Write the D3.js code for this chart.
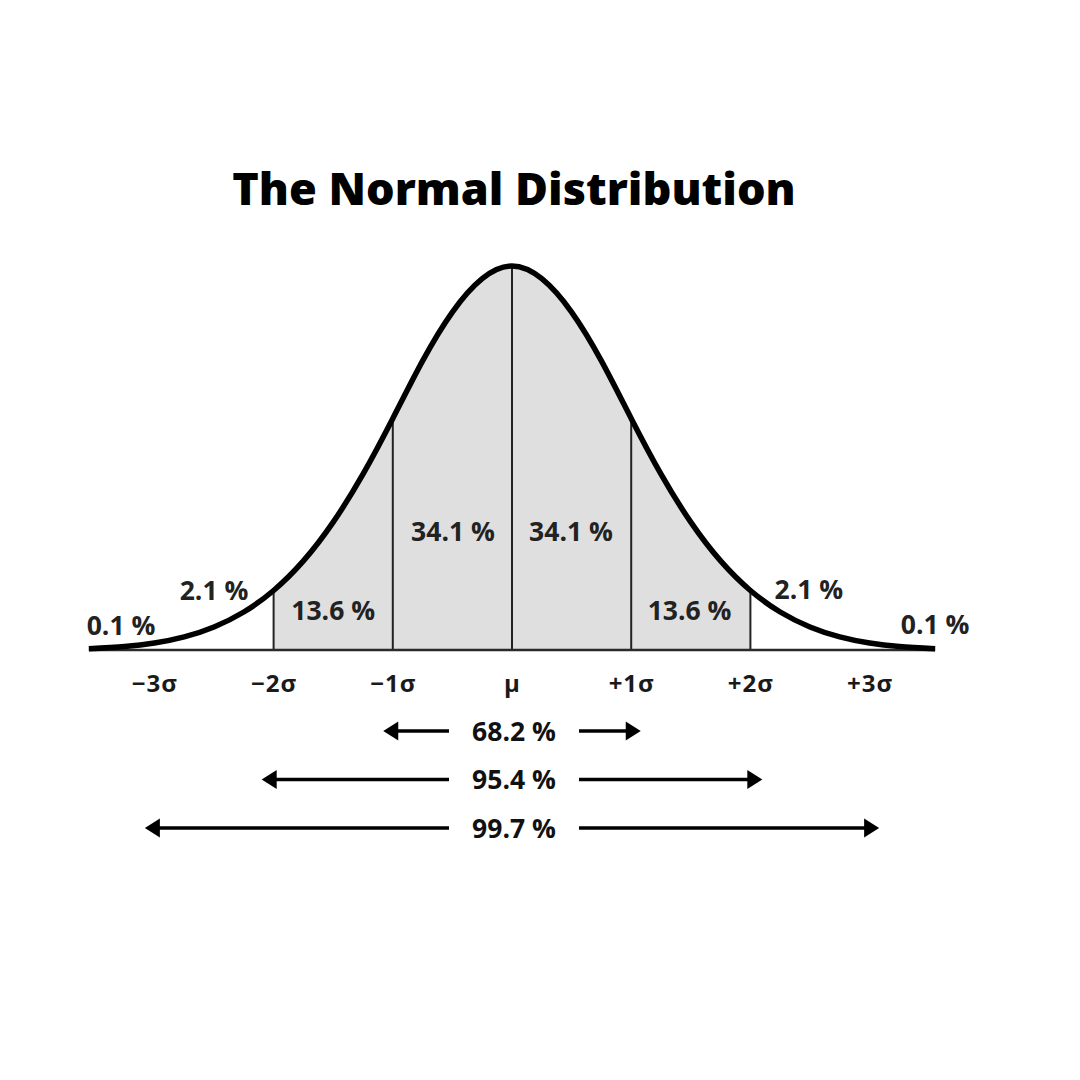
<!DOCTYPE html>
<html>
<head>
<meta charset="utf-8">
<script src="https://cdn.jsdelivr.net/npm/d3@7"></script>
<style>
  html, body { margin: 0; padding: 0; background: #fff; }
  svg { display: block; }
  text { font-family: "Open Sans", "Noto Sans", sans-serif; }
</style>
</head>
<body>
<svg id="chart" width="1080" height="1080"></svg>
<script>
// ---------- data ----------
const title = "The Normal Distribution";

// curve samples: position in σ units, relative height (peak = 1)
const curveZ = [-3.55, -3.25, -3.0, -2.75, -2.5, -2.25, -2.0, -1.75, -1.5, -1.25, -1.0, -0.75, -0.5, -0.25, 0,
                 0.25, 0.5, 0.75, 1.0, 1.25, 1.5, 1.75, 2.0, 2.25, 2.5, 2.75, 3.0, 3.25, 3.55];
const curveH = [0.003, 0.009, 0.018, 0.034, 0.060, 0.099, 0.155, 0.232, 0.333, 0.458, 0.603, 0.753, 0.880, 0.967, 1.0,
                0.967, 0.880, 0.753, 0.603, 0.458, 0.333, 0.232, 0.155, 0.099, 0.060, 0.034, 0.018, 0.009, 0.003];

// sigma ticks and their labels
const sigmaTicks  = [-3, -2, -1, 0, 1, 2, 3];
const sigmaLabels = ["\u22123\u03C3", "\u22122\u03C3", "\u22121\u03C3", "\u03BC", "+1\u03C3", "+2\u03C3", "+3\u03C3"];

// vertical divider lines (σ)
const dividerZ = [-2, -1, 0, 1, 2];

// band percentages
const bandLabels = ["0.1 %", "2.1 %", "13.6 %", "34.1 %", "34.1 %", "13.6 %", "2.1 %", "0.1 %"];

// cumulative ranges
const rangeLabels = ["68.2 %", "95.4 %", "99.7 %"];
const rangeExtent = [1.08, 2.1, 3.08];   // arrow reach in σ

// ---------- layout ----------
const bandLabelPos = [[-3.28, 0.039], [-2.50, 0.130], [-1.50, 0.078], [-0.495, 0.284],
                      [0.495, 0.284], [1.49, 0.078], [2.49, 0.132], [3.55, 0.042]];

const svg = d3.select("#chart");

const x = d3.scaleLinear().domain([-1, 1]).range([512 - 119.2, 512 + 119.2]);
const y = d3.scaleLinear().domain([0, 1]).range([650, 266]);
const rowY = d3.scalePoint().domain(rangeLabels).range([731, 828]);

const pts = curveZ.map((z, i) => ({ z, h: curveH[i] }));
const heightAt = z => curveH[curveZ.indexOf(z)];
const curveType = d3.curveNatural;

// title
svg.append("text")
  .attr("x", 514).attr("y", 205)
  .attr("text-anchor", "middle")
  .attr("font-size", 45).attr("font-weight", 800)
  .attr("fill", "#000")
  .text(title);

// shaded central area (−2σ..+2σ)
const defs = svg.append("defs");
defs.append("clipPath").attr("id", "mid")
  .append("rect")
  .attr("x", x(-2)).attr("y", 0)
  .attr("width", x(2) - x(-2)).attr("height", y(0));

const area = d3.area()
  .x(d => x(d.z)).y0(y(0)).y1(d => y(d.h))
  .curve(curveType);

svg.append("path")
  .datum(pts)
  .attr("d", area)
  .attr("clip-path", "url(#mid)")
  .attr("fill", "#dfdfdf");

// divider lines
svg.append("g").selectAll("line")
  .data(dividerZ)
  .join("line")
  .attr("x1", d => x(d)).attr("x2", d => x(d))
  .attr("y1", y(0)).attr("y2", d => y(heightAt(d)))
  .attr("stroke", "#222").attr("stroke-width", 2);

// baseline
svg.append("line")
  .attr("x1", x(curveZ[0])).attr("x2", x(curveZ[curveZ.length - 1]))
  .attr("y1", y(0)).attr("y2", y(0))
  .attr("stroke", "#2a2a2a").attr("stroke-width", 2.5);

// curve
const line = d3.line().x(d => x(d.z)).y(d => y(d.h)).curve(curveType);
svg.append("path")
  .datum(pts)
  .attr("d", line)
  .attr("fill", "none")
  .attr("stroke", "#000")
  .attr("stroke-width", 5.5)
  .attr("stroke-linejoin", "round");

// sigma axis
const axis = d3.axisBottom(x)
  .tickValues(sigmaTicks)
  .tickFormat((d, i) => sigmaLabels[i])
  .tickSize(0);
const gAxis = svg.append("g").attr("transform", `translate(0,${y(0)})`).call(axis);
gAxis.select(".domain").remove();
gAxis.selectAll("text")
  .attr("y", 42).attr("dy", 0)
  .attr("font-size", 24).attr("font-weight", 700)
  .attr("letter-spacing", 1)
  .attr("font-family", "'Open Sans', 'Noto Sans', sans-serif")
  .attr("fill", "#1a1a1a");

// band labels
svg.append("g").selectAll("text")
  .data(bandLabels)
  .join("text")
  .attr("x", (d, i) => x(bandLabelPos[i][0]))
  .attr("y", (d, i) => y(bandLabelPos[i][1]))
  .attr("text-anchor", "middle")
  .attr("font-size", 26.5).attr("font-weight", 700)
  .attr("fill", "#222")
  .text(d => d);

// range arrows
const gapHalf = 65;
const rows = svg.append("g").selectAll("g")
  .data(rangeLabels)
  .join("g")
  .attr("transform", d => `translate(0,${rowY(d)})`);

rows.append("text")
  .attr("x", x(0) + 2).attr("y", 9.5)
  .attr("text-anchor", "middle")
  .attr("font-size", 26.5).attr("font-weight", 700)
  .attr("fill", "#111")
  .text(d => d);

const headL = 15, headH = 9.5;
rows.each(function (d, i) {
  const g = d3.select(this);
  const xl = x(-rangeExtent[i]), xr = x(rangeExtent[i]);
  const cx = x(0) + 2;
  g.append("line").attr("x1", xl + headL - 1).attr("x2", cx - gapHalf)
    .attr("y1", 0).attr("y2", 0).attr("stroke", "#000").attr("stroke-width", 3.5);
  g.append("line").attr("x1", cx + gapHalf).attr("x2", xr - headL + 1)
    .attr("y1", 0).attr("y2", 0).attr("stroke", "#000").attr("stroke-width", 3.5);
  g.append("path").attr("d", `M${xl},0L${xl + headL},${-headH}L${xl + headL},${headH}Z`).attr("fill", "#000");
  g.append("path").attr("d", `M${xr},0L${xr - headL},${-headH}L${xr - headL},${headH}Z`).attr("fill", "#000");
});
</script>
</body>
</html>
